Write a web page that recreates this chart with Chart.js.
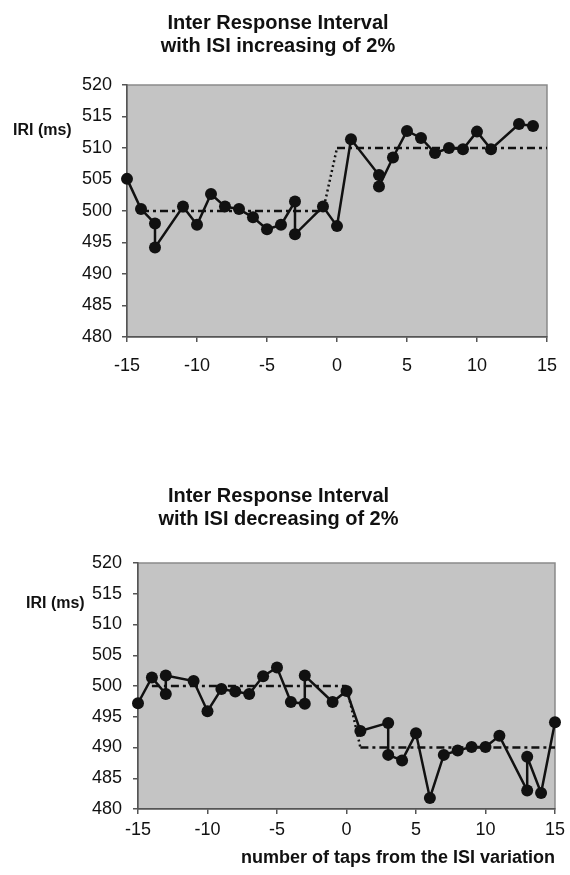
<!DOCTYPE html>
<html>
<head>
<meta charset="utf-8">
<script src="https://cdn.jsdelivr.net/npm/chart.js@4.4.1/dist/chart.umd.min.js"></script>
<style>
  body { margin: 0; background: #fff; width: 570px; height: 875px; position: relative; overflow: hidden; }
  .box { position: absolute; left: 0; width: 570px; }
  .ylab { position: absolute; font: bold 16px "Liberation Sans", Arial, sans-serif; color: #111; line-height: 16px; }
</style>
</head>
<body>
<div class="box" style="top:0;height:400px"><canvas id="topChart"></canvas></div>
<div class="box" style="top:440px;height:435px"><canvas id="bottomChart"></canvas></div>
<span class="ylab" style="left:13px;top:122px">IRI (ms)</span>
<span class="ylab" style="left:26px;top:595px">IRI (ms)</span>
<script>
// taps relative to the ISI change, and inter response intervals (ms)
const tapsUp = [-15, -14, -13, -13, -11, -10, -9, -8, -7, -6, -5, -4, -3, -3, -1, 0, 1, 3, 3, 4, 5, 6, 7, 8, 9, 10, 11, 13, 14];
const iriUp = [505.1, 500.3, 498.0, 494.2, 500.7, 497.8, 502.7, 500.7, 500.3, 499.0, 497.1, 497.8, 501.5, 496.3, 500.7, 497.6,
               511.4, 505.7, 503.9, 508.5, 512.7, 511.6, 509.2, 510.0, 509.8, 512.6, 509.8, 513.8, 513.5];
const isiUpX = [-14, -1, 0, 15];
const isiUpY = [500, 500, 510, 510];

const tapsDown = [-15, -14, -13, -13, -11, -10, -9, -8, -7, -6, -5, -4, -3, -3, -1, 0, 1, 3, 3, 4, 5, 6, 7, 8, 9, 10, 11, 13, 13, 14, 15];
const iriDown = [497.2, 501.4, 498.7, 501.7, 500.8, 495.9, 499.5, 499.1, 498.7, 501.6, 503.0, 497.4, 497.1, 501.7, 497.4, 499.2,
                 492.7, 494.0, 488.8, 487.9, 492.3, 481.8, 488.8, 489.5, 490.1, 490.1, 491.9, 483.0, 488.5, 482.6, 494.1];
const isiDownX = [-14, 0, 1, 15];
const isiDownY = [500, 500, 490, 490];

const xTicks = [-15, -10, -5, 0, 5, 10, 15];
const yTicks = [480, 485, 490, 495, 500, 505, 510, 515, 520];

const FONT = '"Liberation Sans", Arial, sans-serif';
const pts = (xs, ys) => xs.map((x, i) => ({ x: x, y: ys[i] }));

// grey plot area with a light frame
const plotBg = {
    id: 'plotBg',
    beforeDraw(chart) {
        const a = chart.chartArea, ctx = chart.ctx;
        ctx.save();
        ctx.fillStyle = '#c4c4c4';
        ctx.fillRect(a.left, a.top, a.right - a.left, a.bottom - a.top);
        ctx.strokeStyle = '#8a8a8a';
        ctx.lineWidth = 1.5;
        ctx.strokeRect(a.left, a.top, a.right - a.left, a.bottom - a.top);
        ctx.restore();
    }
};

function makeChart(id, title, xs, ys, rx, ry, cfg) {
    return new Chart(document.getElementById(id), {
        type: 'line',
        data: {
            datasets: [{
                data: pts(xs, ys),
                borderColor: '#111',
                borderWidth: 2.5,
                pointRadius: 6,
                pointBackgroundColor: '#111',
                pointBorderWidth: 0,
                tension: 0,
                clip: false,
                order: 0
            }, {
                data: pts(rx, ry),
                borderColor: '#111',
                borderWidth: 2.5,
                pointRadius: 0,
                tension: 0,
                order: 1,
                segment: {
                    borderDash: c => c.p0DataIndex === 1 ? [2, 3] : [8, 4, 3, 4]
                }
            }]
        },
        options: {
            responsive: true,
            maintainAspectRatio: false,
            animation: false,
            layout: { padding: { left: 0, right: cfg.right, top: 0, bottom: 0 } },
            plugins: {
                legend: { display: false },
                tooltip: { enabled: false },
                title: {
                    display: true,
                    text: title,
                    color: '#111',
                    font: { family: FONT, size: 20, weight: 'bold', lineHeight: 1.15 },
                    padding: { top: cfg.titleTop, bottom: cfg.titleBottom }
                }
            },
            scales: {
                x: {
                    type: 'linear',
                    min: -15,
                    max: 15,
                    afterBuildTicks: s => { s.ticks = xTicks.map(v => ({ value: v })); },
                    afterFit: s => { s.height = cfg.xHeight; },
                    ticks: { color: '#111', padding: cfg.xPad, font: { family: FONT, size: 18 } },
                    grid: { drawOnChartArea: false, drawTicks: true, tickLength: 5, color: '#555', lineWidth: 1.5 },
                    border: { display: true, color: '#555', width: 1.5 },
                    title: cfg.xTitle ? {
                        display: true,
                        text: cfg.xTitle,
                        align: 'end',
                        color: '#111',
                        font: { family: FONT, size: 18, weight: 'bold' },
                        padding: { top: 0, bottom: 6 }
                    } : { display: false }
                },
                y: {
                    min: 480,
                    max: 520,
                    afterBuildTicks: s => { s.ticks = yTicks.map(v => ({ value: v })); },
                    afterFit: s => { s.width = cfg.yWidth; },
                    ticks: { color: '#111', padding: cfg.yPad, font: { family: FONT, size: 18 } },
                    grid: { drawOnChartArea: false, drawTicks: true, tickLength: 5, color: '#555', lineWidth: 1.5 },
                    border: { display: true, color: '#555', width: 1.5 }
                }
            }
        },
        plugins: [plotBg]
    });
}

makeChart('topChart', ['Inter Response Interval', 'with ISI increasing of 2%'],
    tapsUp, iriUp, isiUpX, isiUpY,
    { right: 14, titleTop: 12, titleBottom: 27, xHeight: 63, xPad: 13, yWidth: 127, yPad: 10 });

makeChart('bottomChart', ['Inter Response Interval', 'with ISI decreasing of 2%'],
    tapsDown, iriDown, isiDownX, isiDownY,
    { right: 13, titleTop: 45, titleBottom: 32, xHeight: 66, xPad: 5, yWidth: 138, yPad: 11,
      xTitle: 'number of taps from the ISI variation' });
</script>
</body>
</html>
